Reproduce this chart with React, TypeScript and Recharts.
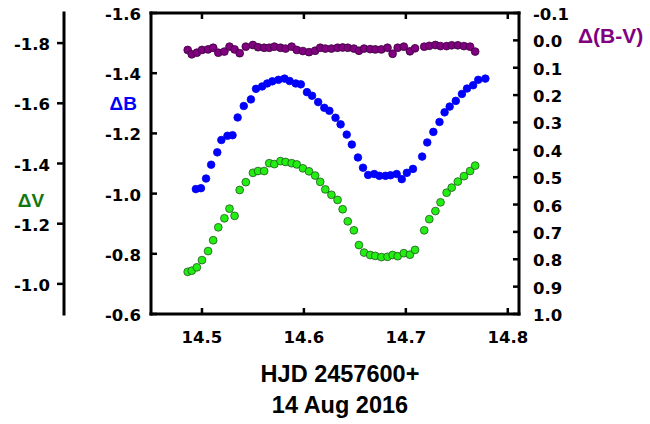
import { Scatter, ScatterChart, XAxis, YAxis } from "recharts";

// HJD - 2457600 for the B-band points
const B_TIMES = [
  14.494, 14.499, 14.504, 14.509, 14.515, 14.519, 14.525, 14.53, 14.535, 14.541,
  14.548, 14.553, 14.559, 14.564, 14.569, 14.575, 14.581, 14.586, 14.592, 14.597,
  14.603, 14.608, 14.614, 14.62, 14.625, 14.631, 14.636, 14.642, 14.647, 14.653,
  14.658, 14.663, 14.669, 14.674, 14.68, 14.685, 14.691, 14.696, 14.701, 14.707,
  14.716, 14.721, 14.727, 14.733, 14.738, 14.743, 14.749, 14.755, 14.76, 14.766,
  14.771, 14.778,
];
const B_MAG = [
  -1.015, -1.018, -1.05, -1.096, -1.137, -1.178, -1.192, -1.194, -1.253, -1.291,
  -1.313, -1.348, -1.356, -1.366, -1.373, -1.378, -1.382, -1.374, -1.366, -1.363,
  -1.337, -1.325, -1.304, -1.285, -1.275, -1.252, -1.23, -1.196, -1.163, -1.12,
  -1.086, -1.062, -1.065, -1.059, -1.059, -1.061, -1.065, -1.048, -1.069, -1.082,
  -1.123, -1.17, -1.205, -1.238, -1.27, -1.289, -1.308, -1.331, -1.349, -1.36,
  -1.378, -1.382,
];

// V-band times (the B-V colour shares them)
const V_TIMES = [
  14.486, 14.49, 14.495, 14.5, 14.506, 14.511, 14.516, 14.522, 14.527, 14.532,
  14.537, 14.543, 14.55, 14.555, 14.561, 14.566, 14.571, 14.577, 14.582, 14.588,
  14.593, 14.599, 14.605, 14.611, 14.616, 14.621, 14.627, 14.633, 14.638, 14.643,
  14.649, 14.654, 14.659, 14.665, 14.67, 14.676, 14.682, 14.687, 14.692, 14.698,
  14.704, 14.709, 14.718, 14.723, 14.729, 14.734, 14.74, 14.745, 14.751, 14.757,
  14.763, 14.768,
];
const V_MAG = [
  -1.04, -1.044, -1.055, -1.079, -1.109, -1.145, -1.188, -1.218, -1.25, -1.226,
  -1.312, -1.338, -1.369, -1.375, -1.375, -1.401, -1.398, -1.408, -1.405, -1.401,
  -1.397, -1.384, -1.374, -1.36, -1.339, -1.314, -1.296, -1.279, -1.248, -1.208,
  -1.178, -1.129, -1.104, -1.096, -1.093, -1.089, -1.09, -1.096, -1.092, -1.102,
  -1.097, -1.113, -1.178, -1.215, -1.242, -1.271, -1.303, -1.32, -1.34, -1.358,
  -1.375, -1.393,
];
const BV_COLOR = [
  0.035, 0.051, 0.045, 0.035, 0.033, 0.027, 0.045, 0.041, 0.023, 0.033,
  0.047, 0.023, 0.017, 0.025, 0.027, 0.027, 0.023, 0.027, 0.03, 0.023,
  0.035, 0.039, 0.043, 0.038, 0.027, 0.03, 0.03, 0.027, 0.026, 0.027,
  0.03, 0.038, 0.03, 0.032, 0.033, 0.033, 0.027, 0.049, 0.027, 0.023,
  0.04, 0.029, 0.023, 0.02, 0.017, 0.021, 0.021, 0.018, 0.018, 0.021,
  0.023, 0.041,
];

const X_TICKS = [14.5, 14.6, 14.7, 14.8];
const B_TICKS = [-1.6, -1.4, -1.2, -1.0, -0.8, -0.6];
const V_TICKS = [-1.8, -1.6, -1.4, -1.2, -1.0];
const BV_TICKS = [-0.1, 0.0, 0.1, 0.2, 0.3, 0.4, 0.5, 0.6, 0.7, 0.8, 0.9, 1.0];

const bData = B_TIMES.map((t, i) => ({ t, v: B_MAG[i] }));
const vData = V_TIMES.map((t, i) => ({ t, v: V_MAG[i] }));
const bvData = V_TIMES.map((t, i) => ({ t, v: BV_COLOR[i] }));

const TICK_FONT = {
  fontFamily: "'DejaVu Sans', sans-serif",
  fontWeight: 700,
  fontSize: 16.5,
};
const TITLE_FONT = {
  fontFamily: "'Liberation Sans', Arial, sans-serif",
  fontWeight: 700,
};

const AXIS_LINE = { stroke: "#000", strokeWidth: 3, strokeLinecap: "square" as const };
const TICK_LINE = { stroke: "#000", strokeWidth: 2.5 };

const fmt = (v: number) => Number(v).toFixed(1);

function sideTick(anchor: "start" | "end") {
  return (props: any) => (
    <text x={props.x} y={props.y + 7} textAnchor={anchor} fill="#000" style={TICK_FONT}>
      {fmt(props.payload.value)}
    </text>
  );
}

function bottomTick(props: any) {
  return (
    <text x={props.x} y={props.y + 12} textAnchor="middle" fill="#000" style={TICK_FONT}>
      {fmt(props.payload.value)}
    </text>
  );
}

function dot(fill: string, stroke: string, r: number) {
  return (props: any) => (
    <circle cx={props.cx} cy={props.cy} r={r} fill={fill} stroke={stroke} strokeWidth={0.8} />
  );
}

export default function App() {
  return (
    <div style={{ position: "absolute", left: 0, top: 0, background: "#fff" }}>
      <ScatterChart width={650} height={424} margin={{ top: 12, right: 0, bottom: 0, left: 0 }}>
        <XAxis
          type="number"
          dataKey="t"
          domain={[14.45, 14.811]}
          ticks={X_TICKS}
          interval={0}
          allowDataOverflow
          height={110}
          axisLine={AXIS_LINE}
          tickLine={TICK_LINE}
          tickSize={-6}
          tickMargin={23}
          tick={bottomTick}
          label={{
            content: ({ viewBox }: any) => {
              const cx = viewBox.x + viewBox.width / 2 + 5;
              return (
                <g style={TITLE_FONT} fill="#000" fontSize={23.5}>
                  <text x={cx} y={viewBox.y + 68} textAnchor="middle">
                    HJD 2457600+
                  </text>
                  <text x={cx} y={viewBox.y + 99} textAnchor="middle">
                    14 Aug 2016
                  </text>
                </g>
              );
            },
          }}
        />
        <XAxis
          xAxisId="top"
          orientation="top"
          type="number"
          dataKey="t"
          domain={[14.45, 14.811]}
          ticks={X_TICKS}
          interval={0}
          allowDataOverflow
          height={1}
          axisLine={AXIS_LINE}
          tickLine={TICK_LINE}
          tickSize={-6}
          tick={() => <g />}
        />
        <YAxis
          yAxisId="b"
          type="number"
          dataKey="v"
          reversed
          domain={[-1.6, -0.6]}
          ticks={B_TICKS}
          interval={0}
          allowDataOverflow
          width={87}
          axisLine={AXIS_LINE}
          tickLine={TICK_LINE}
          tickSize={-6}
          tickMargin={16}
          tick={sideTick("end")}
          label={{
            content: ({ viewBox }: any) => (
              <text
                x={viewBox.x + viewBox.width - 14}
                y={viewBox.y + 97}
                textAnchor="end"
                fill="#0000ff"
                fontSize={19}
                style={TITLE_FONT}
              >
                ΔB
              </text>
            ),
          }}
        />
        <YAxis
          yAxisId="v"
          type="number"
          dataKey="v"
          reversed
          domain={[-1.9, -0.9]}
          ticks={V_TICKS}
          interval={0}
          allowDataOverflow
          width={64}
          axisLine={AXIS_LINE}
          tickLine={TICK_LINE}
          tickSize={7}
          tickMargin={7}
          tick={sideTick("end")}
          label={{
            content: ({ viewBox }: any) => (
              <text
                x={viewBox.x + 31}
                y={viewBox.y + 194}
                textAnchor="middle"
                fill="#117711"
                fontSize={19}
                style={TITLE_FONT}
              >
                ΔV
              </text>
            ),
          }}
        />
        <YAxis
          yAxisId="bv"
          orientation="right"
          type="number"
          dataKey="v"
          reversed
          domain={[-0.1, 1.0]}
          ticks={BV_TICKS}
          interval={0}
          allowDataOverflow
          width={131}
          axisLine={AXIS_LINE}
          tickLine={TICK_LINE}
          tickSize={-6}
          tickMargin={20}
          tick={sideTick("start")}
          label={{
            content: ({ viewBox }: any) => (
              <text
                x={viewBox.x + 59}
                y={viewBox.y + 30}
                textAnchor="start"
                fill="#800080"
                fontSize={21}
                style={TITLE_FONT}
              >
                Δ(B-V)
              </text>
            ),
          }}
        />
        <Scatter
          yAxisId="bv"
          data={bvData}
          shape={dot("#800080", "#3a003a", 3.9)}
          isAnimationActive={false}
        />
        <Scatter
          yAxisId="b"
          data={bData}
          shape={dot("#0000ff", "#0000ee", 3.8)}
          isAnimationActive={false}
        />
        <Scatter
          yAxisId="v"
          data={vData}
          shape={dot("#22ee11", "#245524", 3.9)}
          isAnimationActive={false}
        />
      </ScatterChart>
    </div>
  );
}
